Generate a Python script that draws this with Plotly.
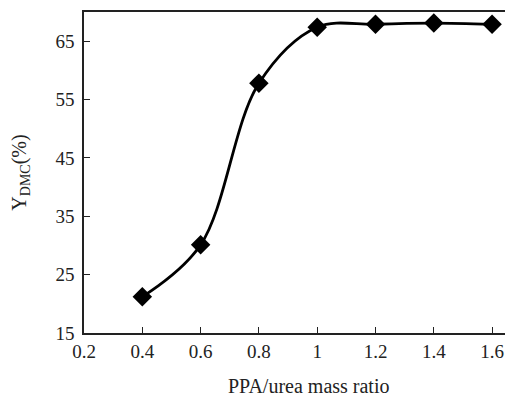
import plotly.graph_objects as go

ratio = [0.4, 0.6, 0.8, 1.0, 1.2, 1.4, 1.6]
y_dmc = [21.2, 30.1, 57.8, 67.4, 67.9, 68.1, 67.9]

x_tickvals = [0.2, 0.4, 0.6, 0.8, 1.0, 1.2, 1.4, 1.6]
x_ticktext = ["0.2", "0.4", "0.6", "0.8", "1", "1.2", "1.4", "1.6"]
y_tickvals = [15, 25, 35, 45, 55, 65]

fig = go.Figure()
fig.add_trace(go.Scatter(
    x=ratio, y=y_dmc, mode="lines+markers",
    line=dict(color="black", width=2.8, shape="spline", smoothing=1.0),
    marker=dict(symbol="diamond", size=15, color="black"),
    showlegend=False,
))

tick_font = dict(family="Liberation Serif, Times New Roman, serif", size=19, color="#222")
title_font = dict(family="Liberation Serif, Times New Roman, serif", size=20, color="#222")
fig.update_layout(
    width=505, height=389,
    margin=dict(l=76, r=2, t=2, b=64),
    paper_bgcolor="white", plot_bgcolor="white",
    font=tick_font,
)
fig.update_xaxes(
    range=[0.2, 1.658], tickvals=x_tickvals, ticktext=x_ticktext,
    ticks="inside", ticklen=6, tickwidth=1.2, tickcolor="#222",
    showline=True, linecolor="#222", linewidth=1.5, mirror=True,
    showgrid=False, zeroline=False, tickfont=tick_font,
)
fig.update_yaxes(
    range=[15, 70], tickvals=y_tickvals,
    ticks="inside", ticklen=6, tickwidth=1.2, tickcolor="#222",
    showline=True, linecolor="#222", linewidth=1.5, mirror=True,
    showgrid=False, zeroline=False, tickfont=tick_font, ticklabelstandoff=4,
    title=dict(text="Y<sub>DMC</sub>(%)", standoff=24, font=title_font),
)
fig.add_annotation(
    text="PPA/urea mass ratio", xref="paper", yref="paper",
    x=0.529, y=-0.166, xanchor="center", yanchor="middle",
    showarrow=False, font=title_font,
)
fig.write_html("out.html")
